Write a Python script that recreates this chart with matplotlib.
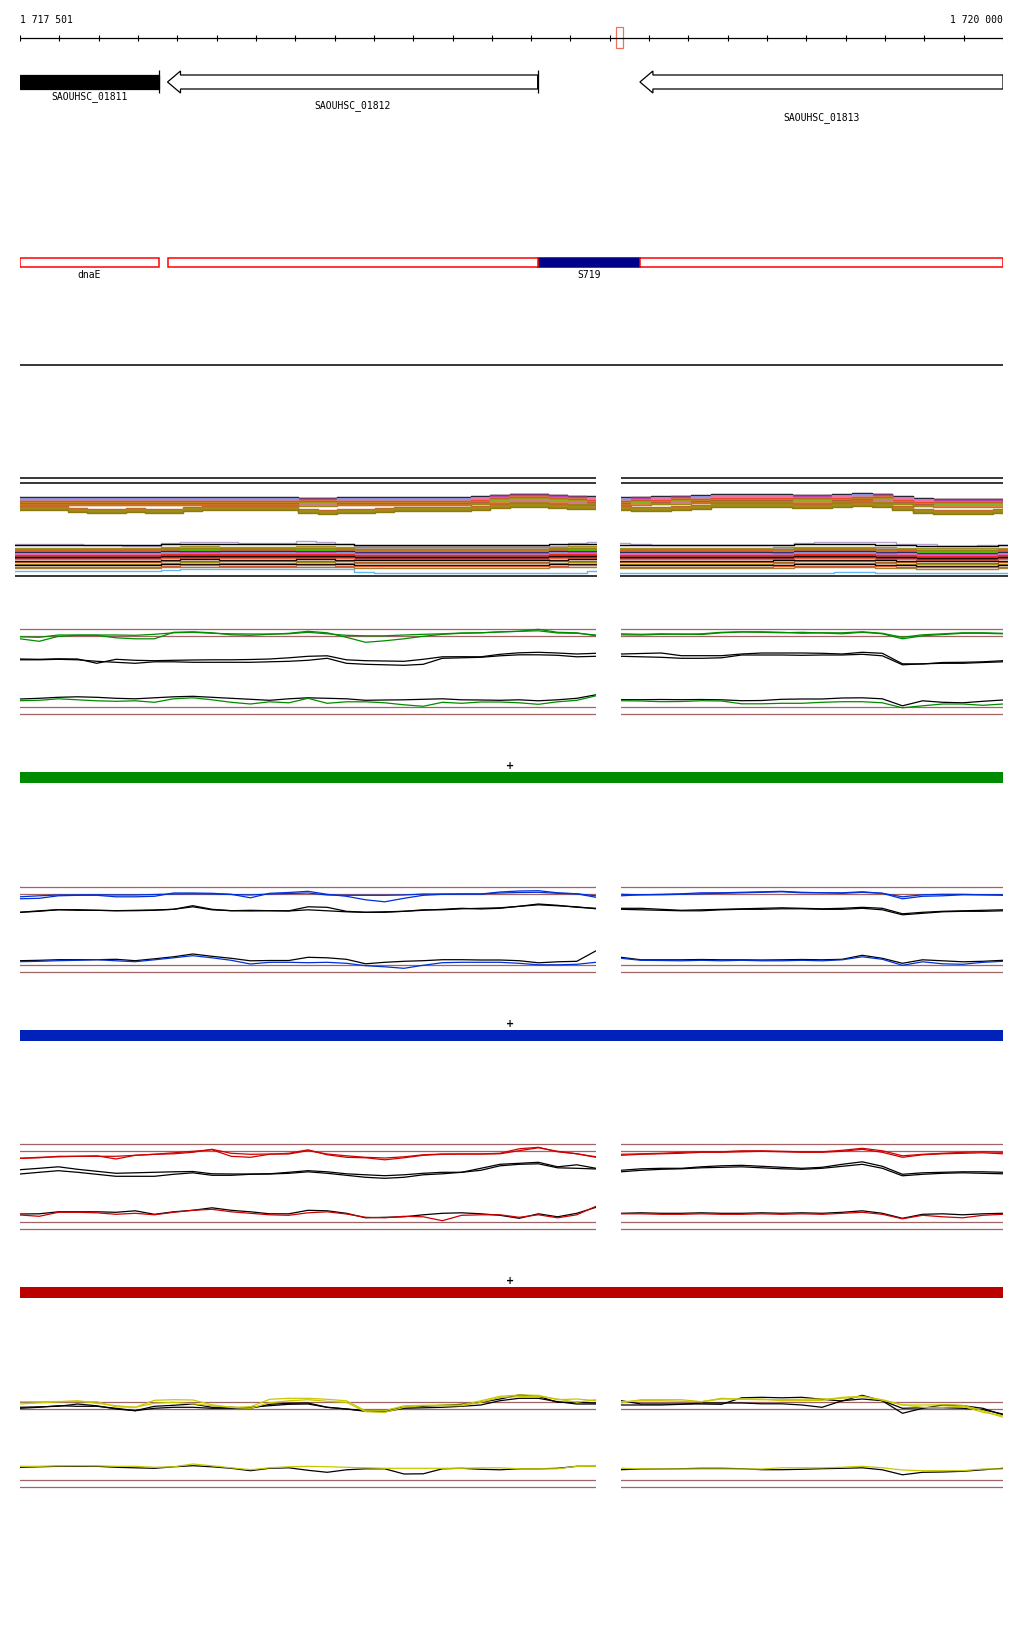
import numpy as np
import matplotlib.pyplot as plt
from matplotlib.patches import Rectangle, Polygon

# ---- genome window -------------------------------------------------------
region_start, region_end = 1717501, 1720000
n_ticks = 26
marker_pos = 1719025

gene_names = ['SAOUHSC_01811', 'SAOUHSC_01812', 'SAOUHSC_01813']
gene_start = [1716700, 1717876, 1719077]
gene_end = [1717854, 1718817, 1720600]
gene_filled = [True, False, False]

seg_names = ['dnaE', '', 'S719', '']
seg_start = [1716700, 1717876, 1718817, 1719077]
seg_end = [1717854, 1718817, 1719077, 1720600]
seg_selected = [False, False, True, False]

# ---- dense multi-condition band ----------------------------------------
b1_levels = [92, 91.5, 91, 90.5, 90, 89.5, 89, 88.5, 88, 87.5, 87, 86.5, 86, 85.5,
             85, 84.5, 84, 83, 82, 81, 80, 79]
b1_colors = ['#000000', '#7a2030', '#66b3e6', '#9b30c8', '#ff66c0', '#e8603a', '#b8a8d0',
             '#c8602a', '#ff3030', '#a08c14', '#e07828', '#6ce000', '#a05a1e', '#c07ac0',
             '#d2691e', '#f08050', '#9a8a10', '#c86030', '#a08a18', '#b08820', '#9a8a10',
             '#8c7c10']
b1_dip_from = 17
b1_prof_left = [0, 0, 0, 0, 0, 0, 0, 0, 0, 0, 0, 0, 0, 0, 0, -0.5, -0.5, 0, 0, 0, 0, 0, 0, 0,
                1, 2.5, 3.5, 3.5, 2.5, 1.5, 1]
b1_dip_left = [0, 0, 0, -1.5, -2.5, -2.5, -2, -2.5, -2.5, -1, 0, 0, 0, 0, 0, -2, -3, -3, -2.5,
               -1.5, -1, -1, -1, -1, -0.5, 0, 0, 0, 0, 0, 0]
b1_prof_right = [0, 0.5, 1, 1.5, 2, 3, 3, 3, 3, 2.5, 2.5, 3, 4, 3.5, 1, -1, -1.5, -1.5, -1.5, -1.5]
b1_dip_right = [0, -1, -1.5, -1.5, -0.5, 0, 0, 0, 0, 0, 0, 0, 0, 0, -1, -1.5, -2, -2, -2, -1.5]

b2_levels = [44, 41.5, 40.5, 40, 39, 38, 37.5, 37, 36, 35.5, 35, 34.5, 34, 33, 32, 31, 30,
             28.5, 27, 25.5, 24, 22.5, 21]
b2_colors = ['#000000', '#a09010', '#b0a0b0', '#8c8c10', '#d06020', '#f06040', '#60e000',
             '#101040', '#60b0e0', '#a030c0', '#ff70c0', '#c080d0', '#ff2020', '#c05030',
             '#000000', '#802030', '#f06040', '#000000', '#b05020', '#a09010', '#000000',
             '#e05030', '#a08030']
b2_prof_left = [0, 0, 0, 0, 0, 0, 0, 0, 1, 1.5, 1.5, 1, 1, 1, 1, 1.5, 1.5, 1, 0.5, 0.5, 0.5,
                0.5, 0.5, 0.5, 0.5, 0.5, 0.5, 0.5, 1, 1.5, 1.5]
b2_lav_left = [45, 45, 45, 45, 44.5, 44, 43, 42.7, 46, 47.3, 47.3, 47, 46, 46, 46.5, 47.7, 47.5,
               45, 43, 42.7, 42.7, 42.7, 42.7, 42.7, 42.7, 42.7, 42.7, 42.7, 43.5, 46, 47.3]
b2_blue_left = [17.7, 17.7, 17.7, 17.7, 17.7, 17.7, 17.7, 17.7, 19.5, 20, 20, 20, 20, 20, 20,
                20, 20, 20, 17, 16, 16, 16, 16, 16, 16, 16, 16, 16, 16, 16, 18]
b2_prof_right = [0, 0, 0, 0, 0, 0, 0, 0, 0.5, 1, 1, 1, 1, 0.5, 0, -0.5, -0.5, -0.5, -0.5, 0]
b2_lav_right = [46, 45, 44, 44, 44, 44, 44, 44, 44.5, 46.5, 47.3, 47.3, 47.3, 47.3, 45, 45,
                43.5, 42.7, 44, 44]
b2_blue_right = [16, 16, 16, 16, 16, 16, 16, 16, 16, 16, 16.5, 17.3, 17.3, 16.5, 16, 16, 16, 16,
                 16, 16]

# ---- single-condition profiles (left region 31 probes, right region 20) ---
gL_col1 = [82.5, 82, 84.3, 84.3, 84.3, 84.3, 84, 85, 86.5, 87, 86, 85.5, 85.3, 85.3, 85.5, 87,
           85.5, 84, 83.5, 83.5, 84.3, 85, 85.5, 86.3, 86.5, 87.3, 88, 88.5, 86.3, 86, 84.3]
gL_col2 = [80.5, 78, 83, 84, 84, 81.5, 80.5, 80.5, 87, 87.5, 86.5, 84.5, 84, 85, 86, 88, 86.5,
           82, 77, 78.5, 80.5, 83, 85, 86, 86.5, 87.5, 88, 90, 87, 86.5, 83.5]
gL_blk1 = [60.3, 60, 60.5, 60.3, 56, 60, 59, 58.6, 59, 59.3, 59.5, 59.5, 59.8, 60.3, 61.5, 63,
           63.5, 59.5, 58.6, 58.3, 58, 60, 62.5, 62.6, 62.5, 65, 66.5, 67, 66.3, 65.3, 66]
gL_blk2 = [59.5, 59.5, 60, 59.5, 58, 57, 56, 57.5, 57.5, 57, 57, 57, 57, 57.5, 58, 59, 61, 56,
           55, 54.5, 54, 55, 61, 61.5, 62, 63.5, 64.5, 64.5, 64, 62.5, 63]
gL_low_blk = [20.3, 21, 22, 22.5, 22, 21, 20.5, 21.5, 22.5, 23, 22, 21, 20, 19, 20.5, 21.5, 21,
              20.5, 19, 19.3, 19.5, 20, 20.5, 19.5, 19.3, 19, 19.5, 18.5, 19.5, 21, 24.5]
gL_low_col = [18.6, 19, 20.5, 19.5, 18.5, 18, 18.5, 17, 20.5, 21.5, 19.5, 17, 15.3, 17.5, 16.5,
              21, 16, 17.5, 17.5, 16.5, 14.5, 13, 17, 16, 17.3, 17.3, 16.5, 15, 17.5, 19, 23.5]
gR_col1 = [84.5, 84.3, 85, 85.3, 84.8, 86.5, 87.3, 87, 86.5, 87, 86.3, 85.5, 87, 85.5, 80.5,
           83.5, 84.8, 86, 86, 85.5]
gR_col2 = [85.5, 85, 85.5, 85, 85.5, 87, 87.5, 87.5, 87, 86, 86.5, 86.5, 87.5, 86, 82, 84.5,
           85.5, 86.5, 86.5, 86]
gR_blk1 = [65.3, 65.8, 66.3, 63.6, 63.6, 63.6, 65.3, 66.3, 66.3, 66.3, 66, 65.3, 67, 66, 55.5,
           55.3, 56.8, 57, 57.5, 58.6]
gR_blk2 = [63, 62.5, 62, 61, 61, 61.5, 64.3, 64.3, 64.3, 64, 64.3, 64.3, 65, 63.5, 54.5, 55.5,
           56, 56, 56.8, 57.5]
gR_low_blk = [19.6, 19.6, 19.8, 19.6, 19.8, 19.5, 18.6, 18.8, 20, 20.3, 20.3, 21.3, 21.5, 20.5,
              13.5, 18.5, 17, 16.5, 18, 19.3]
gR_low_col = [18.6, 18.3, 17.6, 17.8, 18.6, 18.3, 15.5, 15.5, 16, 16, 17, 17.6, 17.6, 16.5, 11.5,
              13.5, 15.3, 15.3, 14, 15.3]

bL_col1 = [78.5, 79, 81.5, 82, 82, 80.5, 80.5, 81, 84.3, 84.3, 84, 83, 79.5, 84, 84.8, 86, 83,
           81, 77.5, 75.5, 79, 82, 83, 83.3, 83.3, 85.3, 86.3, 86.6, 84.5, 83.5, 80]
bL_col2 = [80.5, 81.5, 82.3, 82.3, 82.5, 82.3, 82.3, 82.8, 83.3, 83.5, 83.3, 82.8, 82.3, 83.3,
           83.8, 84.3, 82.3, 82, 82, 82, 82.3, 83.3, 83.3, 83.3, 83.3, 84.3, 84.8, 85, 84, 83.5, 81.5]
bL_blk1 = [65, 66, 67.6, 67.6, 67, 66.6, 66.6, 67, 68, 71.6, 68, 66.6, 67, 66.6, 66.5, 70.5, 70,
           66, 65, 65, 66, 67, 68, 69, 68.3, 69, 71, 73.3, 72, 70, 69]
bL_blk2 = [65, 66.5, 67.6, 67, 67, 66.6, 67, 67.3, 68, 70.5, 67.5, 66.6, 66.3, 66.6, 66.3, 67.5,
           66.5, 65.5, 65, 65.5, 66, 67.5, 67.5, 68.5, 69, 69.5, 71, 72.5, 71.5, 70.5, 68.5]
bL_low_blk = [16.6, 17, 17.6, 17.6, 17.6, 18, 16.6, 18.5, 20.5, 23.3, 21, 19, 16.5, 16.8, 16.8,
              20, 19.5, 18, 13.5, 15, 16, 16.6, 17.6, 17.6, 17.3, 17.3, 16.6, 14.5, 15.5, 16, 26.5]
bL_low_col = [15.6, 16, 16.6, 17, 17.6, 16.5, 15.6, 17.5, 19.5, 21.6, 19.5, 17, 13.3, 15, 15,
              14.6, 15, 14, 11.6, 10.5, 9, 12, 14.6, 15, 15, 15, 14, 12.5, 12.5, 13, 15]
bR_col1 = [81.5, 82.5, 82.5, 83, 83.5, 84, 84.5, 85, 85.5, 84.5, 84.5, 84, 85, 84, 78.5, 81,
           81.5, 82.5, 82.5, 82]
bR_col2 = [83, 82.5, 83, 83.5, 84.5, 84.5, 85, 85.5, 86, 85, 84.5, 84.5, 85.5, 84, 80.5, 82.5,
           83, 83, 82.5, 82.5]
bR_blk1 = [69, 69, 68, 67, 67.5, 68, 68.5, 69, 69.5, 69, 68.5, 69, 70, 69, 63.5, 65, 66, 66.5,
           67, 67.5]
bR_blk2 = [68, 67.5, 67, 66.5, 66.5, 67.5, 68, 68, 68.5, 68.5, 68, 68, 69, 67.5, 62.5, 64, 65.5,
           66, 66, 66.5]
bR_low_blk = [20, 17.5, 17.5, 17.5, 17.8, 17.5, 17.5, 17.3, 17.5, 17.8, 17.5, 18, 22, 19, 14,
              17.5, 16.5, 15.5, 16, 17]
bR_low_col = [19, 17, 16.8, 16.5, 17, 16.5, 17, 16.5, 16.5, 17, 16.5, 17.5, 20.5, 18, 12, 15.5,
              13.5, 13, 15, 16]

rL_col1 = [76, 76.5, 78, 78, 78, 78, 79, 80, 80.5, 82, 85, 81, 80, 80.3, 80.3, 83.6, 80.3, 78.5,
           77, 76.3, 77.5, 79.5, 80.3, 80.3, 80.3, 80.5, 83.6, 86.5, 83, 80.5, 77]
rL_col2 = [76, 77, 77.5, 78, 78.5, 75.3, 79, 80, 81.5, 83, 84.5, 78, 77, 80, 81, 84.5, 79.5, 77,
           76.5, 74.5, 76.5, 79, 80, 80.3, 80.3, 81, 85.5, 87, 82.5, 80.5, 77.5]
rL_blk1 = [64.6, 66, 67.5, 65, 63, 61, 61.5, 62, 62.5, 62.8, 60.5, 60.3, 60.3, 60.5, 62, 63.6,
           62.5, 60.5, 59.5, 58.6, 59.5, 61, 62, 62, 66, 70, 71, 72, 67.5, 69.5, 66]
rL_blk2 = [60.3, 62, 63.6, 62, 60, 58, 58, 58, 60, 61.5, 59, 59, 60, 60.3, 61, 62.5, 61, 59, 57,
           56, 57, 59.5, 60.5, 62, 64, 68.5, 70, 70.5, 66.5, 66, 65.3]
rL_low_blk = [20.3, 20.5, 22.5, 22.5, 22.5, 22, 23.5, 20, 22.5, 24, 26.5, 24, 22.5, 20.5, 20.5,
              24, 23.5, 21, 16.5, 17, 17.5, 19.5, 21, 21.5, 20.5, 19, 16, 20.5, 17.5, 21, 27]
rL_low_col = [19.3, 18, 22, 22, 21.5, 20, 21, 19.5, 22, 24, 25, 22.5, 21, 19.5, 19, 21.5, 22.5,
              20.3, 17, 16.5, 18, 17.5, 13.6, 19, 19.5, 19.5, 17, 19.5, 16.5, 19.5, 28]
rR_col1 = [79, 80, 80.5, 81, 82, 82, 82.5, 83, 82.5, 82, 82, 83, 85, 82, 77, 79.5, 80.5, 81,
           81.5, 80.5]
rR_col2 = [80, 80.5, 81, 82, 82.5, 82.5, 83.5, 83.5, 83, 82.5, 82.5, 84, 86, 83.5, 78.5, 80, 81,
           82, 82.5, 82]
rR_blk1 = [64, 65.5, 66, 66, 67.5, 68.5, 69, 68, 67, 66, 67, 70, 72.5, 68, 60, 61.5, 62, 62.5,
           62.5, 62]
rR_blk2 = [62.5, 64, 65, 65.5, 66.5, 67, 67.5, 66.5, 65.5, 65, 66, 68, 70, 66, 58.5, 60, 61,
           61.5, 61, 60.5]
rR_low_blk = [21, 21.5, 21, 21, 21.5, 21, 21, 21.5, 21, 21.5, 21, 22, 23.5, 21, 16, 20, 20.5,
              19.5, 20.5, 21]
rR_low_col = [20.5, 20.5, 20, 20, 20.5, 20, 20, 20.5, 20, 20.5, 20, 21, 22, 20, 15.5, 19, 17.5,
              16.5, 19, 20]

yL_col1 = [90.6, 90.6, 90.8, 90.8, 90.6, 85.5, 85, 92, 92.6, 92.3, 87.5, 85, 85.5, 93, 94, 94,
           93, 91.5, 81.5, 81.6, 86.5, 87, 87.3, 87.3, 91.5, 96, 97.3, 97, 92.6, 93.3, 91.6]
yL_col2 = [88.3, 89.5, 90.5, 91.6, 89, 86.6, 85, 89, 90, 88.5, 86.6, 85, 84, 89.5, 91.5, 92.6,
           91, 90, 80.6, 80, 85, 86.6, 86.6, 86.6, 90, 95, 95.6, 96, 93.3, 90, 92.6]
yL_blk1 = [85, 85.5, 86, 88.3, 86.5, 83.3, 81.6, 86, 87, 88.3, 85, 85, 84, 88, 89, 89.3, 85,
           83.3, 81.6, 81.6, 85, 86, 87, 88, 90, 93.3, 97.3, 96, 90, 90, 89.3]
yL_blk2 = [84, 85, 86.6, 86, 86, 84, 81.6, 84, 85, 85, 84, 84, 85, 86.6, 88, 88.3, 85, 83.3, 81,
           80.6, 84, 84.5, 85, 86, 87.3, 91.6, 94, 94, 90.6, 88.3, 88.3]
yL_low_blk = [25, 25.5, 26, 26, 26, 25, 24.5, 24, 25.5, 26.6, 25.5, 24, 21.6, 24, 24.5, 22, 20,
              22.5, 23.5, 23.5, 18.3, 18.5, 23.5, 24, 23, 22.5, 23.5, 23.5, 24, 26, 26]
yL_low_col = [26, 26, 26.5, 26.6, 26.5, 26, 26, 25, 25.5, 28.3, 26.5, 24.5, 22.6, 24.5, 25.5, 26,
              25.6, 25, 24.5, 24, 24, 24, 24, 24, 24.5, 24.5, 23.5, 23.5, 23.5, 26, 26]
yR_col1 = [89.3, 92.6, 92.6, 92.6, 90.6, 93.3, 93.3, 93.3, 91.6, 91.6, 92, 95, 96, 92, 87.3,
           87.3, 87.5, 87, 81.6, 75]
yR_col2 = [90.6, 91.6, 91.6, 91, 90.6, 94, 93, 92.6, 92.6, 93, 93.3, 94, 95.6, 92.6, 87.5, 85,
           85, 86, 80, 76.6]
yR_blk1 = [91.6, 88.3, 88.3, 88.3, 88.3, 88, 94.5, 95, 94.5, 95, 93, 91.3, 97, 91.5, 79, 84,
           87.3, 86.6, 84, 77.3]
yR_blk2 = [87.3, 87.3, 87.3, 88, 89.3, 89.3, 89.3, 88.5, 88.5, 87.3, 85, 91.6, 93.3, 91.6, 84,
           84.5, 84.6, 84, 82.6, 78.3]
yR_low_blk = [22.6, 23.3, 23.3, 23.6, 24, 24, 23.6, 22.6, 22.6, 23, 23.6, 24, 24.5, 22.5, 17.5,
              20, 20.3, 21, 22.5, 24]
yR_low_col = [24, 23.5, 23.3, 23.3, 23.3, 23.3, 23.3, 23.3, 24.5, 24.5, 24.5, 25, 26, 24.5, 22.3,
              21.6, 21.6, 21.6, 23.3, 23.3]

ref_levels = [90, 83, 12, 5]

# ---- figure ---------------------------------------------------------------
W, H = 1024, 1640
fig = plt.figure(figsize=(W / 100, H / 100), dpi=100)
fig.patch.set_facecolor('white')
mono = 'DejaVu Sans Mono'
brown = '#a06464'


def px_axes(x0, y0, x1, y1):
    ax = fig.add_axes([x0 / W, 1 - y1 / H, (x1 - x0) / W, (y1 - y0) / H])
    ax.set_axis_off()
    return ax


# genome annotation tracks (x in bp, y in rows)
ax = px_axes(20, 0, 1003, 380)
ax.set_xlim(region_start, region_end)
ax.set_ylim(380, 0)
ticks = np.linspace(region_start, region_end, n_ticks)
ax.hlines(38.5, region_start, region_end, color='black', lw=0.9)
ax.vlines(ticks, 35.5, 41.5, color='black', lw=0.8)
ax.text(region_start, 20, f'{region_start:,}'.replace(',', ' '), family=mono, fontsize=7,
        ha='left', va='center')
ax.text(region_end, 20, f'{region_end:,}'.replace(',', ' '), family=mono, fontsize=7,
        ha='right', va='center')
ax.add_patch(Rectangle((marker_pos - 8, 28), 16, 21, fill=False, edgecolor='#f07060', lw=0.9))

head = 33
label_rows = [97, 106, 118]
for name, s, e, filled, row in zip(gene_names, gene_start, gene_end, gene_filled, label_rows):
    a, b = max(s, region_start), min(e, region_end)
    if s >= region_start:
        pts = [(s, 83), (s + head, 72), (s + head, 76), (b, 76), (b, 90), (s + head, 90),
               (s + head, 94)]
    else:
        pts = [(a, 76), (b, 76), (b, 90), (a, 90)]
    ax.add_patch(Polygon(pts, closed=True, facecolor='black' if filled else 'white',
                         edgecolor='black', lw=0.9))
    if e <= region_end:
        ax.vlines(e, 71, 94, color='black', lw=0.9)
    ax.text((a + b) / 2, row, name, family=mono, fontsize=7, ha='center', va='center')

for name, s, e, sel in zip(seg_names, seg_start, seg_end, seg_selected):
    a, b = max(s, region_start), min(e, region_end)
    ax.add_patch(Rectangle((a, 258.5), b - a, 9, facecolor='#000088' if sel else 'white',
                           edgecolor='#000088' if sel else '#ff0000', lw=1.1,
                           zorder=2 if sel else 3))
    if name:
        ax.text((a + b) / 2, 275, name, family=mono, fontsize=7, ha='center', va='center')
ax.hlines(366, region_start, region_end, color='black', lw=1.1)


# dense band of many conditions
def band_axes(x0, x1):
    bx = px_axes(x0, 470, x1, 590)
    bx.set_xlim(0, 1)
    bx.set_ylim(0, 120)
    return bx


for x0, x1, prof, dip in [(20, 596, b1_prof_left, b1_dip_left),
                          (621, 1003, b1_prof_right, b1_dip_right)]:
    bx = band_axes(x0, x1)
    bx.axhline(111, color='black', lw=1.1)
    bx.axhline(106, color='black', lw=1.1)
    xs = np.linspace(0, 1, len(prof))
    for k, (lev, c) in enumerate(zip(b1_levels, b1_colors)):
        y = lev + np.array(prof, dtype=float)
        if k >= b1_dip_from:
            y = y + np.array(dip)
        bx.plot(xs, y, color=c, lw=1.0, drawstyle='steps-mid')

for x0, x1, prof, lav, lb in [(15, 597, b2_prof_left, b2_lav_left, b2_blue_left),
                              (620, 1008, b2_prof_right, b2_lav_right, b2_blue_right)]:
    bx = band_axes(x0, x1)
    xs = np.linspace(0, 1, len(prof))
    bx.plot(np.linspace(0, 1, len(lav)), lav, color='#b4a4cc', lw=1.0, drawstyle='steps-mid')
    for lev, c in zip(b2_levels, b2_colors):
        bx.plot(xs, lev + np.array(prof, dtype=float), color=c, lw=1.0, drawstyle='steps-mid')
    bx.plot(np.linspace(0, 1, len(lb)), lb, color='#60b8f0', lw=1.0, drawstyle='steps-mid')
    bx.axhline(13, color='black', lw=1.1)

# single-condition sections
sections = [
    (630.3, '#008c00', '#008a00', [gL_col1, gL_col2, gL_blk1, gL_blk2, gL_low_blk, gL_low_col],
     [gR_col1, gR_col2, gR_blk1, gR_blk2, gR_low_blk, gR_low_col]),
    (888.3, '#0030d8', '#0022bb', [bL_col1, bL_col2, bL_blk1, bL_blk2, bL_low_blk, bL_low_col],
     [bR_col1, bR_col2, bR_blk1, bR_blk2, bR_low_blk, bR_low_col]),
    (1145.3, '#d00000', '#bb0000', [rL_col1, rL_col2, rL_blk1, rL_blk2, rL_low_blk, rL_low_col],
     [rR_col1, rR_col2, rR_blk1, rR_blk2, rR_low_blk, rR_low_col]),
    (1403.3, '#c8c800', None, [yL_col1, yL_col2, yL_blk1, yL_blk2, yL_low_blk, yL_low_col],
     [yR_col1, yR_col2, yR_blk1, yR_blk2, yR_low_blk, yR_low_col]),
]

for top, col, bar_col, left, right in sections:
    for (x0, x1), traces in [((20, 596), left), ((621, 1003), right)]:
        sx = px_axes(x0, top - 10, x1, top + 90)
        sx.set_xlim(0, 1)
        sx.set_ylim(0, 100)
        for lev in ref_levels:
            sx.axhline(lev, color=brown, lw=0.9)
        c1, c2, k1, k2, lk, lc = traces
        for y, c in [(k1, 'black'), (k2, 'black'), (lk, 'black'),
                     (c1, col), (c2, col), (lc, col)]:
            sx.plot(np.linspace(0, 1, len(y)), y, color=c, lw=0.9)
    if bar_col:
        fig.text(510 / W, 1 - (top + 136) / H, '+', ha='center', va='center', fontsize=7,
                 fontweight='bold')
        fig.add_artist(Rectangle((20 / W, 1 - (top + 153.7) / H), 983 / W, 10.7 / H,
                                 transform=fig.transFigure, color=bar_col, lw=0))

fig.savefig('out.png', dpi=100)
